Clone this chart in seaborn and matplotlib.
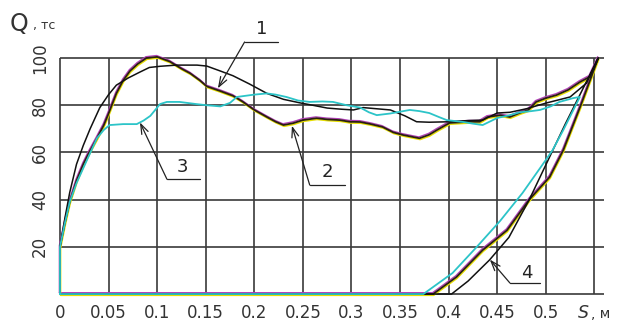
import numpy as np
import pandas as pd
import matplotlib
matplotlib.use("Agg")
import matplotlib.pyplot as plt
from matplotlib import transforms
import seaborn as sns

# ---- axis ticks -------------------------------------------------------------
x_ticks = [0, 0.05, 0.1, 0.15, 0.2, 0.25, 0.3, 0.35, 0.4, 0.45, 0.5, 0.55]
x_tick_labels = ["0", "0.05", "0.1", "0.15", "0.2", "0.25", "0.3", "0.35",
                 "0.4", "0.45", "0.5", ""]
y_ticks = [0, 20, 40, 60, 80, 100]
y_tick_labels = ["", "20", "40", "60", "80", "100"]

# ---- measured loading / unloading (curves 1, 2) ----------------------------
s_exp_load = [0, 0, 0.005, 0.01, 0.017, 0.024, 0.03, 0.038, 0.045, 0.05, 0.058,
              0.065, 0.072, 0.08, 0.089, 0.1, 0.113, 0.125, 0.134, 0.144, 0.151,
              0.165, 0.178, 0.188, 0.2, 0.213, 0.222, 0.23, 0.24, 0.25, 0.264,
              0.275, 0.288, 0.298, 0.309, 0.32, 0.332, 0.343, 0.353, 0.37,
              0.38, 0.388, 0.401, 0.422, 0.432, 0.44, 0.453, 0.463, 0.473,
              0.482, 0.49, 0.5, 0.511, 0.523, 0.535, 0.545, 0.554]
q_exp_load = [0, 20, 30, 39, 48, 55, 60, 66, 71.5, 76.5, 85,
              90.5, 94.5, 97.5, 100, 100.5, 98.5, 95.5, 93.5, 90.5, 88,
              86, 84, 81.5, 78, 75, 73, 71.6, 72.4, 73.7, 74.5,
              74, 73.7, 73, 72.9, 72, 70.8, 68.5, 67.4, 66,
              67.5, 69.5, 72.5, 73, 73, 75, 75.8, 75, 76.7,
              78, 81.4, 83, 84.3, 86.5, 89.8, 92, 100]
s_exp_unload = [0.554, 0.536, 0.518, 0.504, 0.483, 0.46, 0.435, 0.408, 0.384]
q_exp_unload = [100, 80, 61, 49.6, 40, 27, 18.6, 7.2, 0]

# ---- calculated loading / unloading (black, curve 4 on unloading) ----------
s_calc_load = [0, 0, 0.005, 0.01, 0.017, 0.024, 0.031, 0.041, 0.05, 0.058, 0.07,
               0.082, 0.092, 0.103, 0.12, 0.141, 0.151, 0.165, 0.178, 0.195,
               0.213, 0.23, 0.247, 0.26, 0.275, 0.29, 0.302, 0.312, 0.326,
               0.34, 0.355, 0.367, 0.38, 0.401, 0.42, 0.435, 0.45, 0.463,
               0.48, 0.501, 0.525, 0.542, 0.554]
q_calc_load = [0, 20, 32, 43, 55, 63, 70, 79, 84.5, 88.5, 91.5,
               94, 96, 96.5, 97, 97, 96.6, 94.5, 92.5, 89,
               85, 82.5, 81, 80, 78.8, 78.3, 78, 79, 78.5,
               78, 75.5, 73, 72.8, 73, 73.5, 73.7, 76.7, 77,
               78.5, 81, 83.5, 89.4, 100]
s_calc_unload = [0.554, 0.52, 0.483, 0.462, 0.442, 0.42, 0.403]
q_calc_unload = [100, 72, 40, 24, 14.4, 5.5, 0]

# ---- measured loading / unloading (cyan, curve 3) ---------------------------
s_cyan_load = [0, 0, 0.005, 0.01, 0.017, 0.028, 0.038, 0.045, 0.051, 0.065, 0.079,
               0.086, 0.093, 0.1, 0.103, 0.11, 0.123, 0.14, 0.151, 0.165, 0.175,
               0.182, 0.2, 0.213, 0.222, 0.233, 0.245, 0.257, 0.27, 0.281,
               0.295, 0.309, 0.318, 0.326, 0.34, 0.36, 0.37, 0.38, 0.39, 0.398,
               0.415, 0.425, 0.435, 0.45, 0.463, 0.473, 0.485, 0.494, 0.505,
               0.514, 0.528, 0.535]
q_cyan_load = [0, 20, 30, 39, 47, 57, 66, 69.5, 71.6, 72, 72,
               73.5, 75.5, 79, 80.5, 81.4, 81.4, 80.5, 80, 79.5, 81,
               83.5, 84.5, 85, 84.5, 83.5, 82, 81.4, 81.6, 81.4,
               80, 79, 77, 75.8, 76.5, 78, 77.5, 76.7, 75, 73.7,
               72.9, 72.2, 71.6, 74.6, 75.8, 77, 77.5, 78, 79.5,
               81.4, 83, 83.5]
s_cyan_unload = [0.535, 0.532, 0.518, 0.507, 0.5, 0.476, 0.453, 0.429, 0.404, 0.374]
q_cyan_unload = [83.5, 81, 69.5, 61, 56.8, 42.8, 31, 20, 8.9, 0]


def cycle(s_load, q_load, s_unload, q_unload):
    """Full cycle: loading, unloading, then back along Q = 0."""
    s = list(s_load) + list(s_unload) + [0]
    q = list(q_load) + list(q_unload) + [0]
    return pd.DataFrame({"S": s, "Q": q})


exp_df = cycle(s_exp_load, q_exp_load, s_exp_unload, q_exp_unload)
calc_df = cycle(s_calc_load, q_calc_load, s_calc_unload, q_calc_unload)
cyan_df = cycle(s_cyan_load, q_cyan_load, s_cyan_unload, q_cyan_unload)

sns.set_style("white")
plt.rcParams["font.family"] = ["DejaVu Sans"]

fig = plt.figure(figsize=(6.2, 3.25), dpi=100)
ax = fig.add_axes([0.0905, 0.0735, 0.887, 0.777])
ax.set_xlim(-0.004, 0.562)
ax.set_ylim(-3, 104)
for sp in ax.spines.values():
    sp.set_visible(False)

grid_col = "#3a3a3a"
ax.hlines(y_ticks, 0, 0.56, color=grid_col, lw=1.2, zorder=1)
ax.vlines(x_ticks, 0, 100, color=grid_col, lw=1.2, zorder=1)

# measured runs, drawn as a bundle of three slightly separated traces
up = transforms.offset_copy(ax.transData, fig=fig, x=-0.6, y=1.3, units="dots")
down = transforms.offset_copy(ax.transData, fig=fig, x=0.6, y=-1.3, units="dots")
line_kw = dict(x="S", y="Q", sort=False, estimator=None, ax=ax, legend=False)

sns.lineplot(data=exp_df, color="#b040b8", lw=1.0, transform=up, zorder=3, **line_kw)
sns.lineplot(data=exp_df, color="#e6df00", lw=1.1, transform=down, zorder=3, **line_kw)
sns.lineplot(data=exp_df, color="#2a2010", lw=1.3, zorder=4, **line_kw)
sns.lineplot(data=calc_df, color="#111111", lw=1.1, zorder=5, **line_kw)
sns.lineplot(data=cyan_df, color="#2cc4c8", lw=1.3, zorder=6, **line_kw)

ax.set_xticks(x_ticks)
ax.set_xticklabels(x_tick_labels, fontsize=12, color="#333333")
ax.set_yticks(y_ticks)
ax.set_yticklabels(y_tick_labels, fontsize=12, color="#333333",
                   rotation=90, va="center")
ax.tick_params(axis="x", length=0, pad=2)
ax.tick_params(axis="y", length=0, pad=5)
ax.set_xlabel("")
ax.set_ylabel("")


def leader(label, tip_s, curve_s, curve_q, elbow, end, text_xy):
    tip_q = float(np.interp(tip_s, curve_s, curve_q))
    ax.annotate("", xy=(tip_s, tip_q), xytext=elbow,
                arrowprops=dict(arrowstyle="->,head_length=0.7,head_width=0.25",
                                color="#222222", lw=0.9, shrinkA=0, shrinkB=0),
                annotation_clip=False, zorder=7)
    ax.plot([elbow[0], end[0]], [elbow[1], end[1]], color="#222222", lw=0.9,
            clip_on=False, zorder=7)
    ax.text(text_xy[0], text_xy[1], label, fontsize=13, ha="center",
            va="center", color="#222222", clip_on=False)


s_unload_inc = s_calc_unload[::-1]
q_unload_inc = q_calc_unload[::-1]
leader("1", 0.1625, s_exp_load, np.array(q_exp_load) + 0.8,
       (0.190, 106.8), (0.224, 106.8), (0.208, 112.5))
leader("2", 0.2387, s_exp_load, np.array(q_exp_load) - 1.0,
       (0.257, 46.2), (0.293, 46.2), (0.2747, 51.7))
leader("3", 0.0823, s_cyan_load, q_cyan_load,
       (0.110, 48.7), (0.144, 48.7), (0.1265, 53.8))
leader("4", 0.4424, s_unload_inc, q_unload_inc,
       (0.463, 4.7), (0.494, 4.7), (0.4805, 8.9))

# axis captions
fig.text(10 / 620, 1 - 24 / 325, "Q", fontsize=17, color="#333333",
         ha="left", va="center")
fig.text(33 / 620, 1 - 25 / 325, ", тс", fontsize=9, color="#333333",
         ha="left", va="center")
fig.text(578 / 620, 1 - 313 / 325, "S", fontsize=12.5, color="#333333",
         ha="left", va="center", style="italic")
fig.text(591 / 620, 1 - 314 / 325, ", м", fontsize=10, color="#333333",
         ha="left", va="center")

fig.savefig("out.png", dpi=100)
